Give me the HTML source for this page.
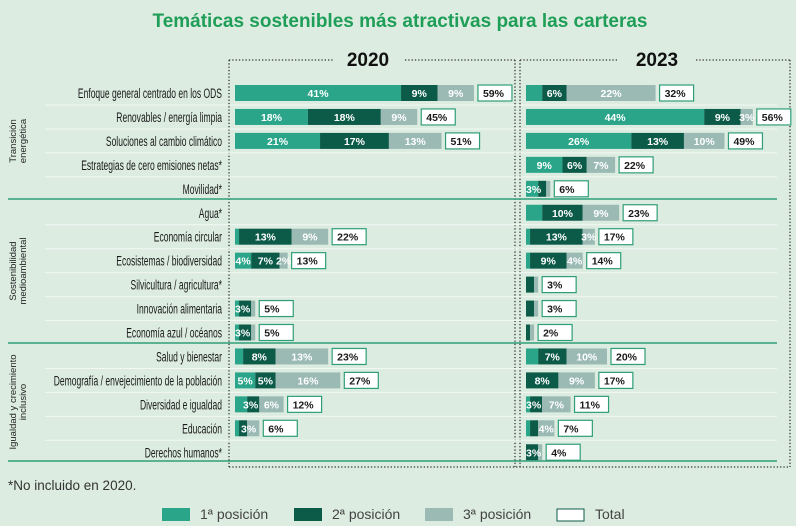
<!DOCTYPE html>
<html><head><meta charset="utf-8">
<style>
body{margin:0;background:#dcece1;}
svg{display:block;font-family:"Liberation Sans",sans-serif;}
.lbl{font-size:14px;fill:#1a1a1a;}
.in{font-size:10.5px;fill:#fff;font-weight:bold;}
.tot{font-size:10.5px;fill:#1a1a1a;font-weight:bold;}
</style></head><body>
<svg id="s" width="796" height="526" viewBox="0 0 796 526" xmlns="http://www.w3.org/2000/svg">
<rect width="796" height="526" fill="#dcece1"/>
<text x="400" y="27" text-anchor="middle" font-size="19" font-weight="bold" fill="#1f9e58">Temáticas sostenibles más atractivas para las carteras</text>
<text x="368" y="66" text-anchor="middle" font-size="19" font-weight="bold" fill="#111">2020</text>
<text x="657" y="66" text-anchor="middle" font-size="19" font-weight="bold" fill="#111">2023</text>
<g stroke="#333" stroke-width="1.3" stroke-dasharray="1.3,2" fill="none">
<line x1="229" y1="60" x2="333" y2="60"/><line x1="405" y1="60" x2="515" y2="60"/>
<line x1="520" y1="60" x2="617" y2="60"/><line x1="696" y1="60" x2="790" y2="60"/>
<line x1="229" y1="60" x2="229" y2="467"/><line x1="515" y1="60" x2="515" y2="467"/>
<line x1="520" y1="60" x2="520" y2="467"/><line x1="790" y1="60" x2="790" y2="467"/>
<line x1="229" y1="467" x2="790" y2="467"/>
</g>
<g id="rows"></g>
<g stroke="#2f9e78" stroke-width="1.5">
<line x1="8" y1="199" x2="777" y2="199"/><line x1="8" y1="343" x2="777" y2="343"/><line x1="8" y1="461" x2="777" y2="461"/>
</g>
<g font-size="9.5" fill="#222" text-anchor="middle">
<text transform="translate(16,141) rotate(-90)">Transición</text>
<text transform="translate(26,141) rotate(-90)">energética</text>
<text transform="translate(16,271) rotate(-90)">Sostenibilidad</text>
<text transform="translate(26,271) rotate(-90)">medioambiental</text>
<text transform="translate(16,402) rotate(-90)">Igualdad y crecimiento</text>
<text transform="translate(26,402) rotate(-90)">inclusivo</text>
</g>
<text x="8" y="490" font-size="13.5" fill="#333">*No incluido en 2020.</text>
<g font-size="14" fill="#444">
<rect x="162" y="508" width="28" height="13" fill="#2aa58a"/><text x="200" y="519">1ª posición</text>
<rect x="294" y="508" width="28" height="13" fill="#0c5a48"/><text x="332" y="519">2ª posición</text>
<rect x="425" y="508" width="28" height="13" fill="#9bbab4"/><text x="463" y="519">3ª posición</text>
<rect x="557" y="509" width="27" height="12" fill="#fff" stroke="#0c5a48" stroke-width="1"/><text x="595" y="519">Total</text>
</g>
</svg>
<script>
var names=["Enfoque general centrado en los ODS","Renovables / energía limpia","Soluciones al cambio climático","Estrategias de cero emisiones netas*","Movilidad*","Agua*","Economía circular","Ecosistemas / biodiversidad","Silvicultura / agricultura*","Innovación alimentaria","Economía azul / océanos","Salud y bienestar","Demografía / envejecimiento de la población","Diversidad e igualdad","Educación","Derechos humanos*"];
var d20=[[41,9,9,59,1,1,1],[18,18,9,45,1,1,1],[21,17,13,51,1,1,1],null,null,null,[1,13,9,22,0,1,1],[4,7,2,13,1,1,1],null,[1,3,1,5,0,0,0,"3%"],[1,3,1,5,0,0,0,"3%"],[2,8,13,23,0,1,1],[5,5,16,27,1,1,1],[3,3,6,12,0,0,1,"3%",8],[1,2,3,6,0,0,0,"3%",6],null];
var d23=[[4,6,22,32,0,1,1],[44,9,3,56,1,1,1],[26,13,10,49,1,1,1],[9,6,7,22,1,1,1],[3,2,1,6,0,0,0,"3%"],[4,10,9,23,0,1,1],[1,13,3,17,0,1,1],[1,9,4,14,0,1,1],[0,2,1,3,0,0,0],[0,2,1,3,0,0,0],[0,1,1,2,0,0,0],[3,7,10,20,0,1,1],[0,8,9,17,0,1,1],[1,3,7,11,0,0,1,"3%"],[1,2,4,7,0,0,1],[0,3,1,4,0,0,0,"3%"]];
var cols=["#2aa58a","#0c5a48","#9bbab4"];
var h="";
function bars(x0,r,y){if(!r)return"";var s="",x=x0,k=4.05;
for(var i=0;i<3;i++){var w=r[i]*k;if(w>0){s+='<rect x="'+x+'" y="'+(y-8)+'" width="'+w+'" height="16" fill="'+cols[i]+'"/>';
if(r[4+i])s+='<text class="in" x="'+(x+w/2)+'" y="'+(y+4)+'" text-anchor="middle">'+r[i]+'%</text>';}x+=w;}
if(r[7])s+='<text class="in" x="'+(x0+(r[8]||0))+'" y="'+(y+4)+'">'+r[7]+'</text>';
var bx=x0+(r[0]+r[1]+r[2])*k+4;
s+='<rect x="'+bx+'" y="'+(y-8)+'" width="34" height="16" fill="#fff" stroke="#2f9e78" stroke-width="1.2"/>';
s+='<text class="tot" x="'+(bx+5)+'" y="'+(y+4)+'">'+r[3]+'%</text>';return s;}
for(var i=0;i<16;i++){var y=93+i*23.95;
if(i!=4&&i!=10&&i!=15)h+='<line x1="45" y1="'+(y+12)+'" x2="777" y2="'+(y+12)+'" stroke="#f2f8f4" stroke-width="1"/>';
h+='<text class="lbl" transform="translate(222,'+(y+5)+') scale(0.61,1)" text-anchor="end">'+names[i]+'</text>';
h+=bars(235,d20[i],y)+bars(526,d23[i],y);}
document.getElementById("rows").innerHTML=h;
</script>
</body></html>
